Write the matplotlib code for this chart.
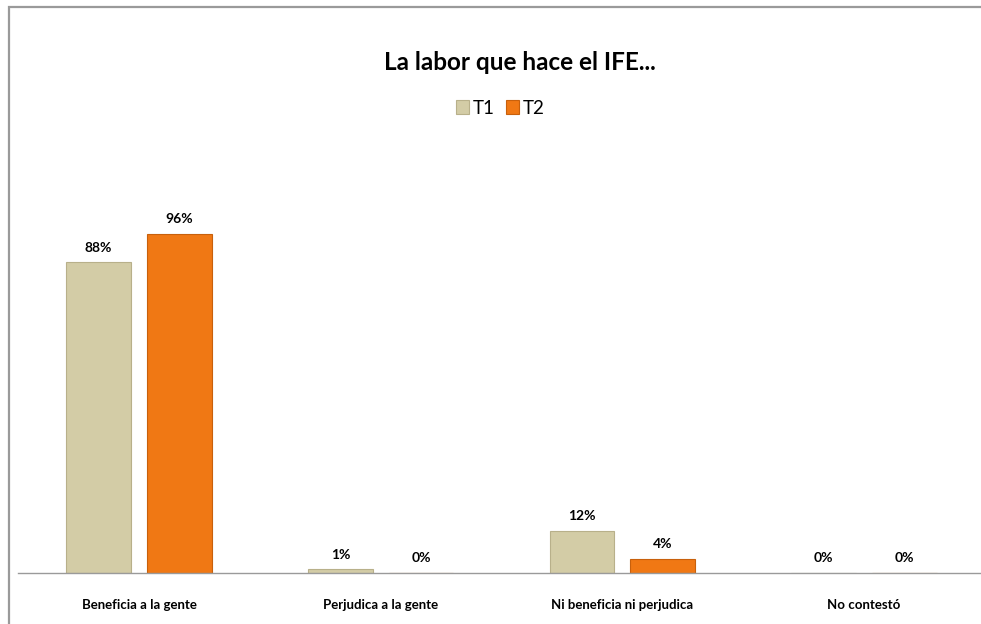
import numpy as np
import matplotlib.pyplot as plt
from matplotlib.patches import Rectangle

categorias = ["Beneficia a la gente", "Perjudica a la gente", "Ni beneficia ni perjudica", "No contestó"]
t1 = [88, 1, 12, 0]
t2 = [96, 0, 4, 0]
series = ["T1", "T2"]

plt.rcParams['font.family'] = ['Lato', 'DejaVu Sans']

W, H = 981, 624
fig = plt.figure(figsize=(W/100, H/100), dpi=100)
fig.patch.set_facecolor('white')

# marco gris del grafico
fig.add_artist(Rectangle((9/W, -0.1), 1.2, 1 - 7/H + 0.1, transform=fig.transFigure,
                         fill=False, edgecolor='#9a9a9a', linewidth=1.6))

ax = fig.add_axes([18.2/W, 51/H, 966.6/W, 353/H])
x = np.arange(len(categorias))
ancho = 0.268
desp = 0.167

b1 = ax.bar(x - desp, np.array(t1)/100, ancho, color='#D3CCA6', edgecolor='#B8B08A', linewidth=0.8, label=series[0])
b2 = ax.bar(x + desp, np.array(t2)/100, ancho, color='#F07814', edgecolor='#C8600C', linewidth=0.8, label=series[1])

for barras, vals in [(b1, t1), (b2, t2)]:
    for r, v in zip(barras, vals):
        ax.text(r.get_x() + r.get_width()/2, r.get_height() + 0.025, f"{v}%",
                ha='center', va='bottom', fontsize=10, fontweight='bold')

ax.set_xlim(-0.5, 3.5)
ax.set_ylim(0, 1)
ax.set_xticks(x)
ax.set_xticklabels(categorias, fontsize=9.5, fontweight='bold')
ax.tick_params(axis='x', length=0, pad=19)
ax.set_yticks([])
for s in ['top', 'right', 'left']:
    ax.spines[s].set_visible(False)
ax.spines['bottom'].set_color('#9a9a9a')
ax.spines['bottom'].set_linewidth(1.0)

fig.text(520/W, 1 - 62/H, "La labor que hace el IFE...", ha='center', va='center',
         fontsize=17.5, fontweight='bold')
fig.legend(loc='center', bbox_to_anchor=(500/W, 1 - 108/H), ncol=2, frameon=False,
           fontsize=13.5, handlelength=0.7, handleheight=0.7, handletextpad=0.2, columnspacing=0.6)

plt.savefig('out.png', dpi=100)
